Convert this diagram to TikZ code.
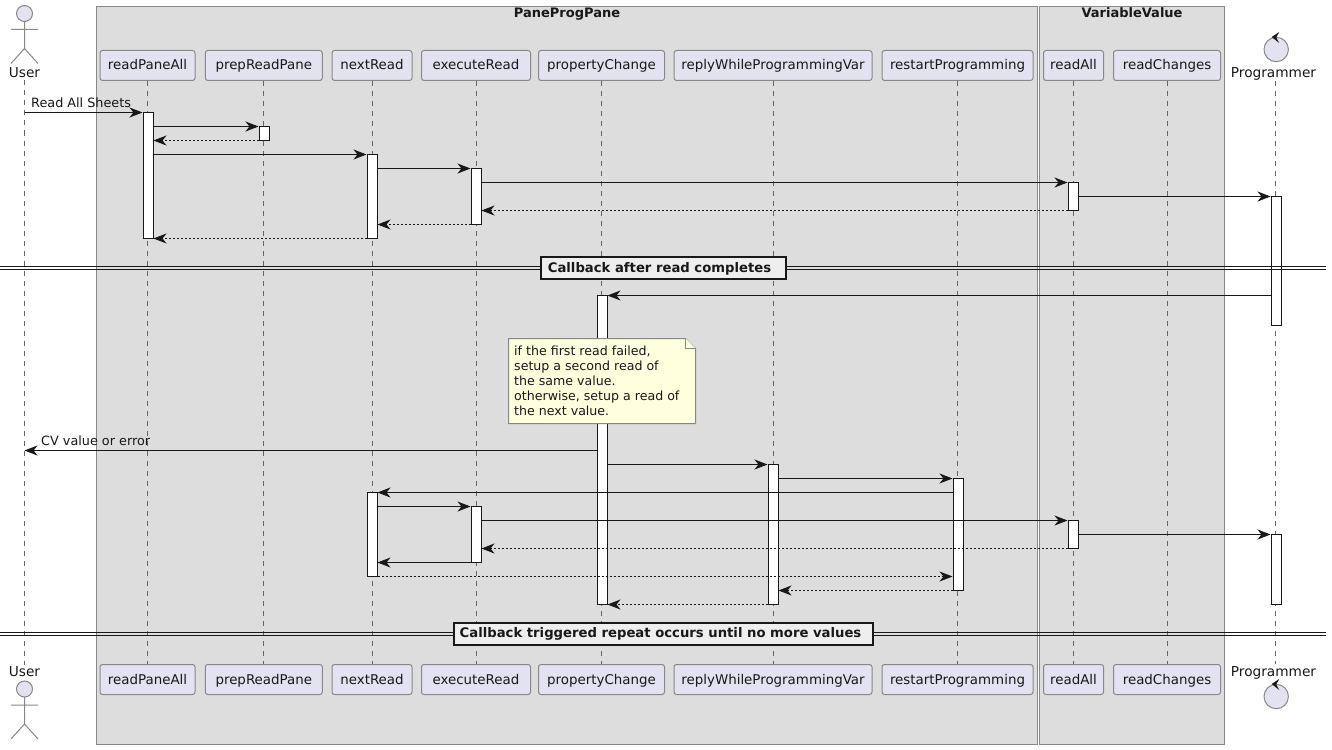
\documentclass[tikz,border=0pt]{standalone}
\usepackage{fontspec}
\setmainfont{DejaVu Sans}
\usetikzlibrary{arrows.meta}
\definecolor{pfill}{HTML}{E2E2F0}
\definecolor{pline}{HTML}{888888}
\definecolor{boxfill}{HTML}{DDDDDD}
\definecolor{ink}{HTML}{181818}
\definecolor{notefill}{HTML}{FEFFDD}
\definecolor{divfill}{HTML}{EEEEEE}
\definecolor{lifecol}{HTML}{666666}
\tikzset{
  part/.style={draw=pline,fill=pfill,line width=1pt,rounded corners=2.5pt,minimum height=30pt,inner sep=0pt,text height=12pt,text depth=3pt,font=\fontsize{13.4}{16}\selectfont,text=ink},
  plainlabel/.style={inner sep=0pt,text height=12pt,text depth=3pt,font=\fontsize{13.7}{16}\selectfont,text=ink},
  life/.style={draw=lifecol,line width=0.8pt,dash pattern=on 5pt off 5pt},
  actbox/.style={draw=ink,fill=white,line width=1pt,minimum width=10pt,inner sep=0pt},
  tiph/.style={-{Stealth[length=13pt,width=10pt,inset=4pt]}},
  msg/.style={draw=ink,line width=1pt,tiph},
  ret/.style={msg,dash pattern=on 2pt off 2pt},
  grp/.style={draw=pline,fill=boxfill,line width=1pt},
  grptitle/.style={inner sep=0pt,text height=10pt,text depth=1pt,font=\fontsize{13}{15}\selectfont\bfseries,text=ink},
  msglabel/.style={inner sep=0pt,anchor=base west,font=\fontsize{12.8}{15}\selectfont,text=ink},
  notetext/.style={inner sep=0pt,anchor=north west,align=left,font=\fontsize{12.6}{15}\selectfont,text=ink},
  divline/.style={draw=ink,line width=1pt},
  divbox/.style={draw=ink,fill=divfill,line width=2pt,inner sep=0pt,minimum height=22pt},
  divtext/.style={inner sep=0pt,text height=12pt,text depth=3pt,font=\fontsize{13.2}{15}\selectfont\bfseries,text=ink},
  actorline/.style={draw=pline,line width=1pt},
  actorhead/.style={draw=pline,fill=pfill,line width=1pt},
}
\newcommand{\activation}[4]{\node[actbox,minimum height={(#4-#3)*1pt}] (#1) at (#2,{(#3+#4)/2}) {};}
\newcommand{\actorfig}[2]{%
  \draw[actorhead] (#1,#2) circle (8pt);
  \draw[actorline] (#1,#2+8) -- (#1,#2+35) (#1-13.5,#2+16) -- (#1+13.5,#2+16)
    (#1-13.5,#2+50) -- (#1,#2+35) -- (#1+13.5,#2+50);}
\newcommand{\controlfig}[2]{%
  \draw[actorhead] (#1,#2) circle (12.2pt);
  \fill[ink] (#1-4.5,#2-12.5) -- (#1+3,#2-17.5) -- (#1,#2-12) -- (#1+3,#2-6.5) -- cycle;}
\begin{document}
\begin{tikzpicture}[x=1pt,y=-1pt]
\useasboundingbox (0,0) rectangle (1332,749);
% groups
\draw[grp] (96.5,6.5) rectangle (1037.5,744.5);
\draw[grp] (1039.5,6.5) rectangle (1224.5,744.5);
\node[grptitle] (gA) at (567,13) {PaneProgPane};
\node[grptitle] (gB) at (1132,13) {VariableValue};
% heads
\foreach \nm/\lab/\cx/\w in {
  rpa/readPaneAll/147.5/95, prp/prepReadPane/263.8/117, nxt/nextRead/372/80,
  exr/executeRead/476/109, prc/propertyChange/601.5/126,
  rwp/replyWhileProgrammingVar/773/198, rsp/restartProgramming/957.5/151,
  ral/readAll/1073.5/60, rch/readChanges/1167/107}{
  \node[part,minimum width=\w pt] (t\nm) at (\cx,65.5) {\lab};
  \node[part,minimum width=\w pt] (b\nm) at (\cx,679.5) {\lab};
  \draw[life] (t\nm.south) -- (b\nm.north);
}
\actorfig{24.5}{13.5}
\actorfig{24.5}{689}
\node[plainlabel] (tusr) at (24.5,72.8) {User};
\node[plainlabel] (busr) at (24.5,672.3) {User};
\draw[life] (tusr.south) -- (busr.north);
\controlfig{1276.2}{49.5}
\controlfig{1276.2}{696.5}
\node[plainlabel] (tprg) at (1273.5,72.8) {Programmer};
\node[plainlabel] (bprg) at (1273.5,672.3) {Programmer};
\coordinate (ptop) at (1275.5,81);
\coordinate (pbot) at (1275.5,664);
\draw[life] (ptop) -- (pbot);
% activation bars
\activation{a1}{148}{112.5}{238.5}
\activation{p1}{264}{126.5}{140.5}
\activation{n1}{372}{154.5}{238.5}
\activation{e1}{476}{168.5}{224.5}
\activation{v1}{1073}{182.5}{210.5}
\activation{g1}{1276}{196.5}{325.5}
\activation{c1}{602}{295.5}{604.5}
\activation{r1}{773}{464.5}{604.5}
\activation{s1}{958}{478.5}{590.5}
\activation{n2}{372}{492.5}{576.5}
\activation{e2}{476}{506.5}{562.5}
\activation{v2}{1073}{520.5}{548.5}
\activation{g2}{1276}{534.5}{604.5}
% message rows
\foreach \i/\yy in {1/112.5,2/126.5,3/140.5,4/154.5,5/168.5,6/182.5,7/196.5,8/210.5,9/224.5,10/238.5,
  11/295.5,12/450.5,13/464.5,14/478.5,15/492.5,16/506.5,17/520.5,18/534.5,19/548.5,20/562.5,21/576.5,22/590.5,23/604.5}{
  \coordinate (m\i) at (0,\yy);
}
\draw[msg] (tusr.south |- m1) -- (a1.west |- m1);
\draw[msg] (a1.east |- m2) -- (p1.west |- m2);
\draw[ret] (p1.west |- m3) -- (a1.east |- m3);
\draw[msg] (a1.east |- m4) -- (n1.west |- m4);
\draw[msg] (n1.east |- m5) -- (e1.west |- m5);
\draw[msg] (e1.east |- m6) -- (v1.west |- m6);
\draw[msg] (v1.east |- m7) -- (g1.west |- m7);
\draw[ret] (v1.west |- m8) -- (e1.east |- m8);
\draw[ret] (e1.west |- m9) -- (n1.east |- m9);
\draw[ret] (n1.west |- m10) -- (a1.east |- m10);
\draw[msg] (g1.west |- m11) -- (c1.east |- m11);
\draw[msg] (c1.west |- m12) -- (tusr.south |- m12);
\draw[msg] (c1.east |- m13) -- (r1.west |- m13);
\draw[msg] (r1.east |- m14) -- (s1.west |- m14);
\draw[msg] (s1.west |- m15) -- (n2.east |- m15);
\draw[msg] (n2.east |- m16) -- (e2.west |- m16);
\draw[msg] (e2.east |- m17) -- (v2.west |- m17);
\draw[msg] (v2.east |- m18) -- (g2.west |- m18);
\draw[ret] (v2.west |- m19) -- (e2.east |- m19);
\draw[msg] (e2.west |- m20) -- (n2.east |- m20);
\draw[ret] (n2.east |- m21) -- (s1.west |- m21);
\draw[ret] (s1.west |- m22) -- (r1.east |- m22);
\draw[ret] (r1.west |- m23) -- (c1.east |- m23);
\node[msglabel] (l1) at (31,107) {Read All Sheets};
\node[msglabel] (l2) at (41,445) {CV value or error};
% note
\draw[draw=pline,fill=notefill,line width=1pt] (508.5,338.5) -- (685.5,338.5) -- (695.5,348.5) -- (695.5,423.5) -- (508.5,423.5) -- cycle;
\draw[draw=pline,fill=notefill,line width=1pt] (685.5,338.5) -- (685.5,348.5) -- (695.5,348.5);
\node[notetext] (nt) at (514,346) {if the first read failed,\\setup a second read of\\the same value.\\otherwise, setup a read of\\the next value.};
% dividers
\draw[divline] (0,266.5) -- (1326,266.5) (0,269.5) -- (1326,269.5);
\node[divbox,minimum width=245pt] (d1) at (663.5,268) {};
\node[divtext] (d1t) at (659.5,267.5) {Callback after read completes};
\draw[divline] (0,632.5) -- (1326,632.5) (0,635.5) -- (1326,635.5);
\node[divbox,minimum width=419pt] (d2) at (663.5,633.5) {};
\node[divtext] (d2t) at (660.5,633) {Callback triggered repeat occurs until no more values};
\end{tikzpicture}
\end{document}
